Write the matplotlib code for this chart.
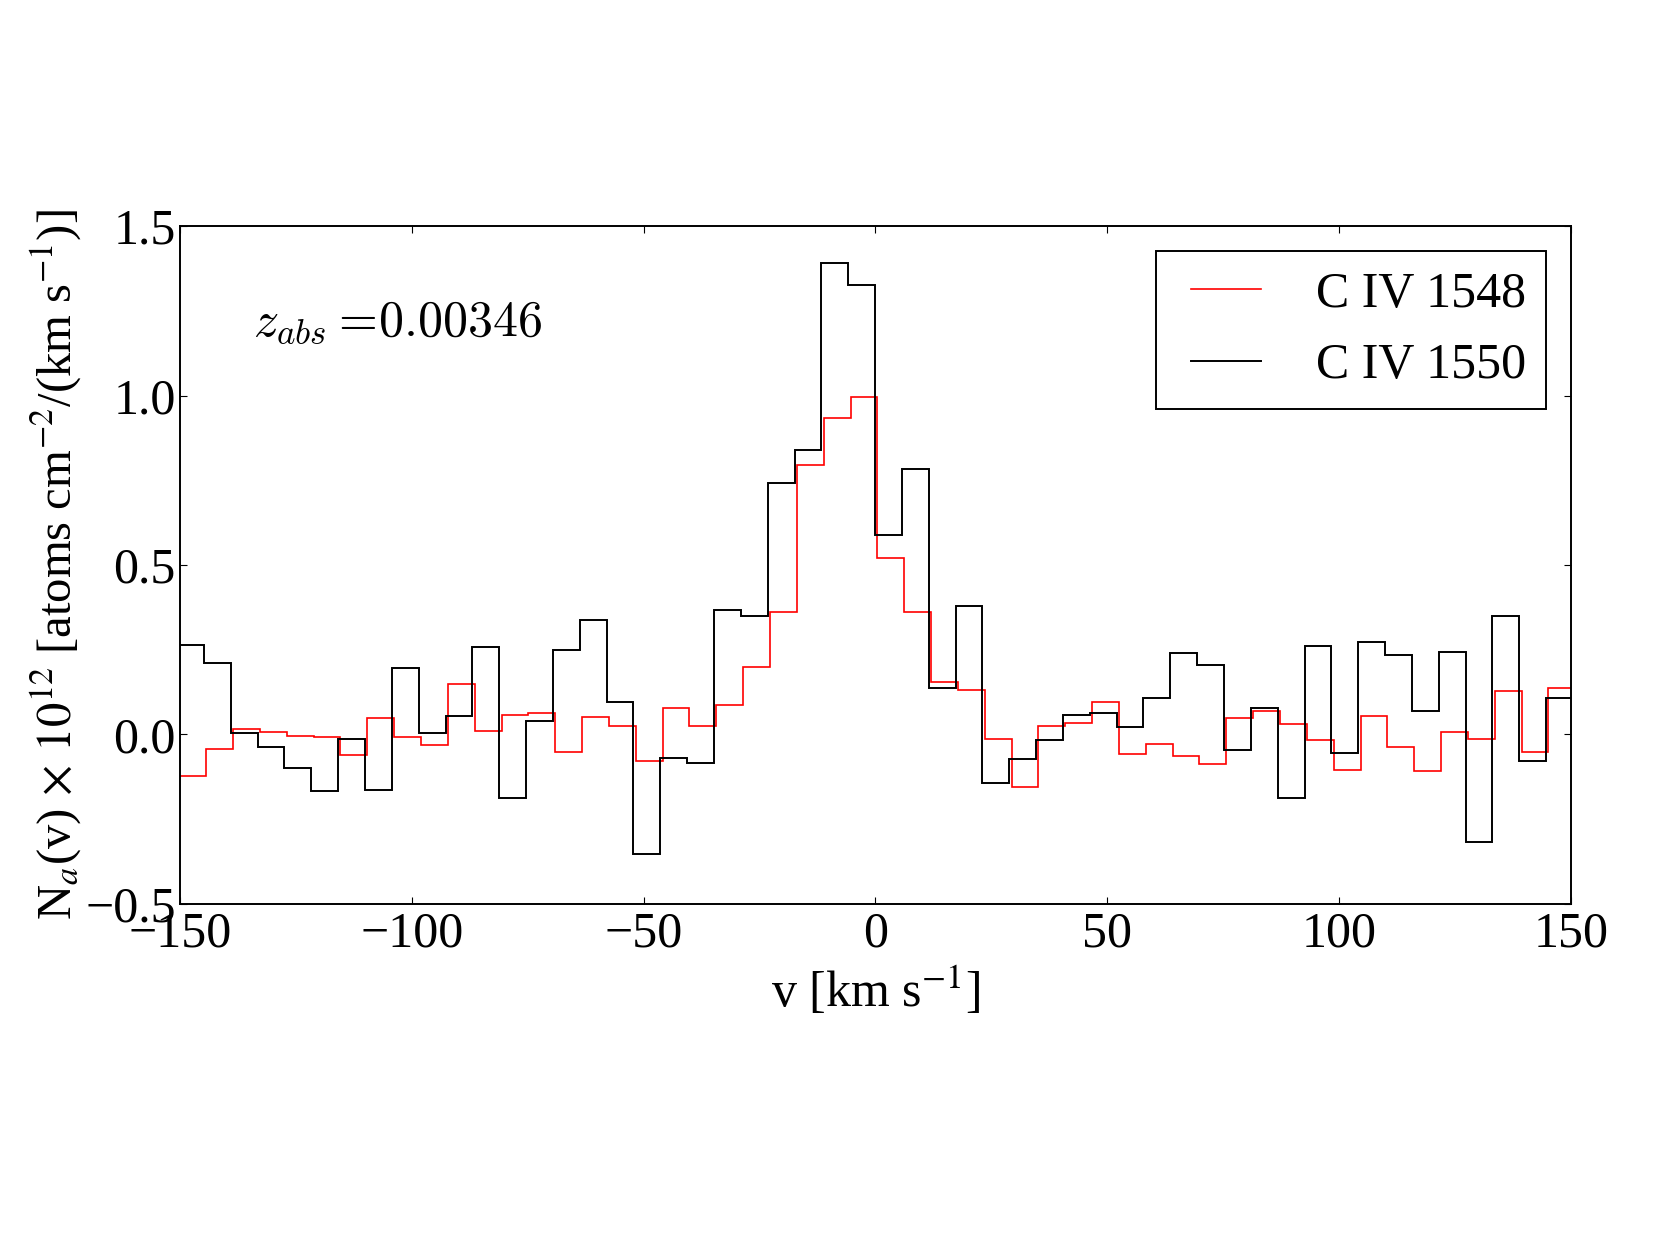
import numpy as np
import matplotlib
matplotlib.use('Agg')
import matplotlib.pyplot as plt
from matplotlib.lines import Line2D

# ---- data ----
bin_width = 5.79                       # km/s
bin_index = np.arange(-26, 27)
edges_1550 = bin_index * bin_width - 0.1
edges_1548 = bin_index * bin_width + 0.4

na_1548 = [-0.122, -0.043, 0.017, 0.007, -0.004, -0.007, -0.062, 0.049, -0.007, -0.030,
           0.149, 0.011, 0.057, 0.062, -0.053, 0.051, 0.026, -0.079, 0.078, 0.026,
           0.086, 0.200, 0.362, 0.795, 0.934, 0.996, 0.520, 0.362, 0.154, 0.132,
           -0.013, -0.154, 0.026, 0.033, 0.096, -0.059, -0.029, -0.063, -0.086, 0.049,
           0.070, 0.032, -0.017, -0.105, 0.054, -0.036, -0.109, 0.007, -0.013, 0.128,
           -0.053, 0.136]

na_1550 = [0.263, 0.210, 0.004, -0.036, -0.099, -0.168, -0.013, -0.164, 0.195, 0.004,
           0.055, 0.258, -0.186, 0.039, 0.250, 0.338, 0.095, -0.353, -0.068, -0.083,
           0.366, 0.349, 0.743, 0.838, 1.391, 1.326, 0.588, 0.783, 0.138, 0.379,
           -0.142, -0.072, -0.016, 0.057, 0.062, 0.022, 0.109, 0.241, 0.204, -0.046,
           0.079, -0.187, 0.262, -0.054, 0.272, 0.234, 0.070, 0.243, -0.316, 0.349,
           -0.079, 0.109]

labels = ["C IV 1548", "C IV 1550"]
x_ticks = [-150, -100, -50, 0, 50, 100, 150]
y_ticks = [-0.5, 0.0, 0.5, 1.0, 1.5]
z_abs_text = r"$z_{abs} =\!0.00346$"

# ---- style ----
plt.rcParams['font.family'] = ['Liberation Serif', 'DejaVu Serif']
plt.rcParams['mathtext.fontset'] = 'stix'
FS = 36

fig = plt.figure(figsize=(16.55, 12.4), dpi=100)
ax = fig.add_axes([0.1088, 0.2710, 0.9492 - 0.1088, 0.8177 - 0.2710])

ax.stairs(na_1548, edges_1548, baseline=None, color='#ff0000', linewidth=1.2, label=labels[0])
ax.stairs(na_1550, edges_1550, baseline=None, color='black', linewidth=1.4, label=labels[1])

ax.set_xlim(-150, 150)
ax.set_ylim(-0.5, 1.5)
ax.set_xticks(x_ticks)
ax.set_yticks(y_ticks)
ax.set_yticklabels([f"{t:.1f}".replace('-', '\u2212') for t in y_ticks])
ax.set_xticklabels([f"{t}".replace('-', '\u2212') for t in x_ticks])

ax.tick_params(direction='in', top=True, right=True, length=5, width=0.8, labelsize=FS)
ax.tick_params(axis='x', pad=5)
ax.tick_params(axis='y', pad=3)
for s in ax.spines.values():
    s.set_linewidth(1.4)

fig.text(0.529, 0.200, r"v [km s$^{-1}$]", fontsize=FS, ha='center', va='center')
fig.text(0.034, 0.5444,
         r"N$_a$(v)$\,\times\,10^{12}$ [atoms cm$^{-2}$/(km s$^{-1}$)]",
         fontsize=35, ha='center', va='center', rotation=90)

ax.text(-134.3, 1.177, z_abs_text, fontsize=FS, ha='left', va='baseline',
        math_fontfamily='cm')

h1 = Line2D([], [], color='#ff0000', linewidth=1.2)
h2 = Line2D([], [], color='black', linewidth=1.4)
leg = ax.legend([h1, h2], labels, loc='upper right', fontsize=FS, numpoints=2,
                handlelength=2.0, handletextpad=0.8, borderpad=0.4, borderaxespad=0.5,
                labelspacing=0.5, fancybox=False, framealpha=1, edgecolor='black')
leg.get_frame().set_linewidth(1.4)

fig.savefig('out.png', dpi=100, facecolor='white')
